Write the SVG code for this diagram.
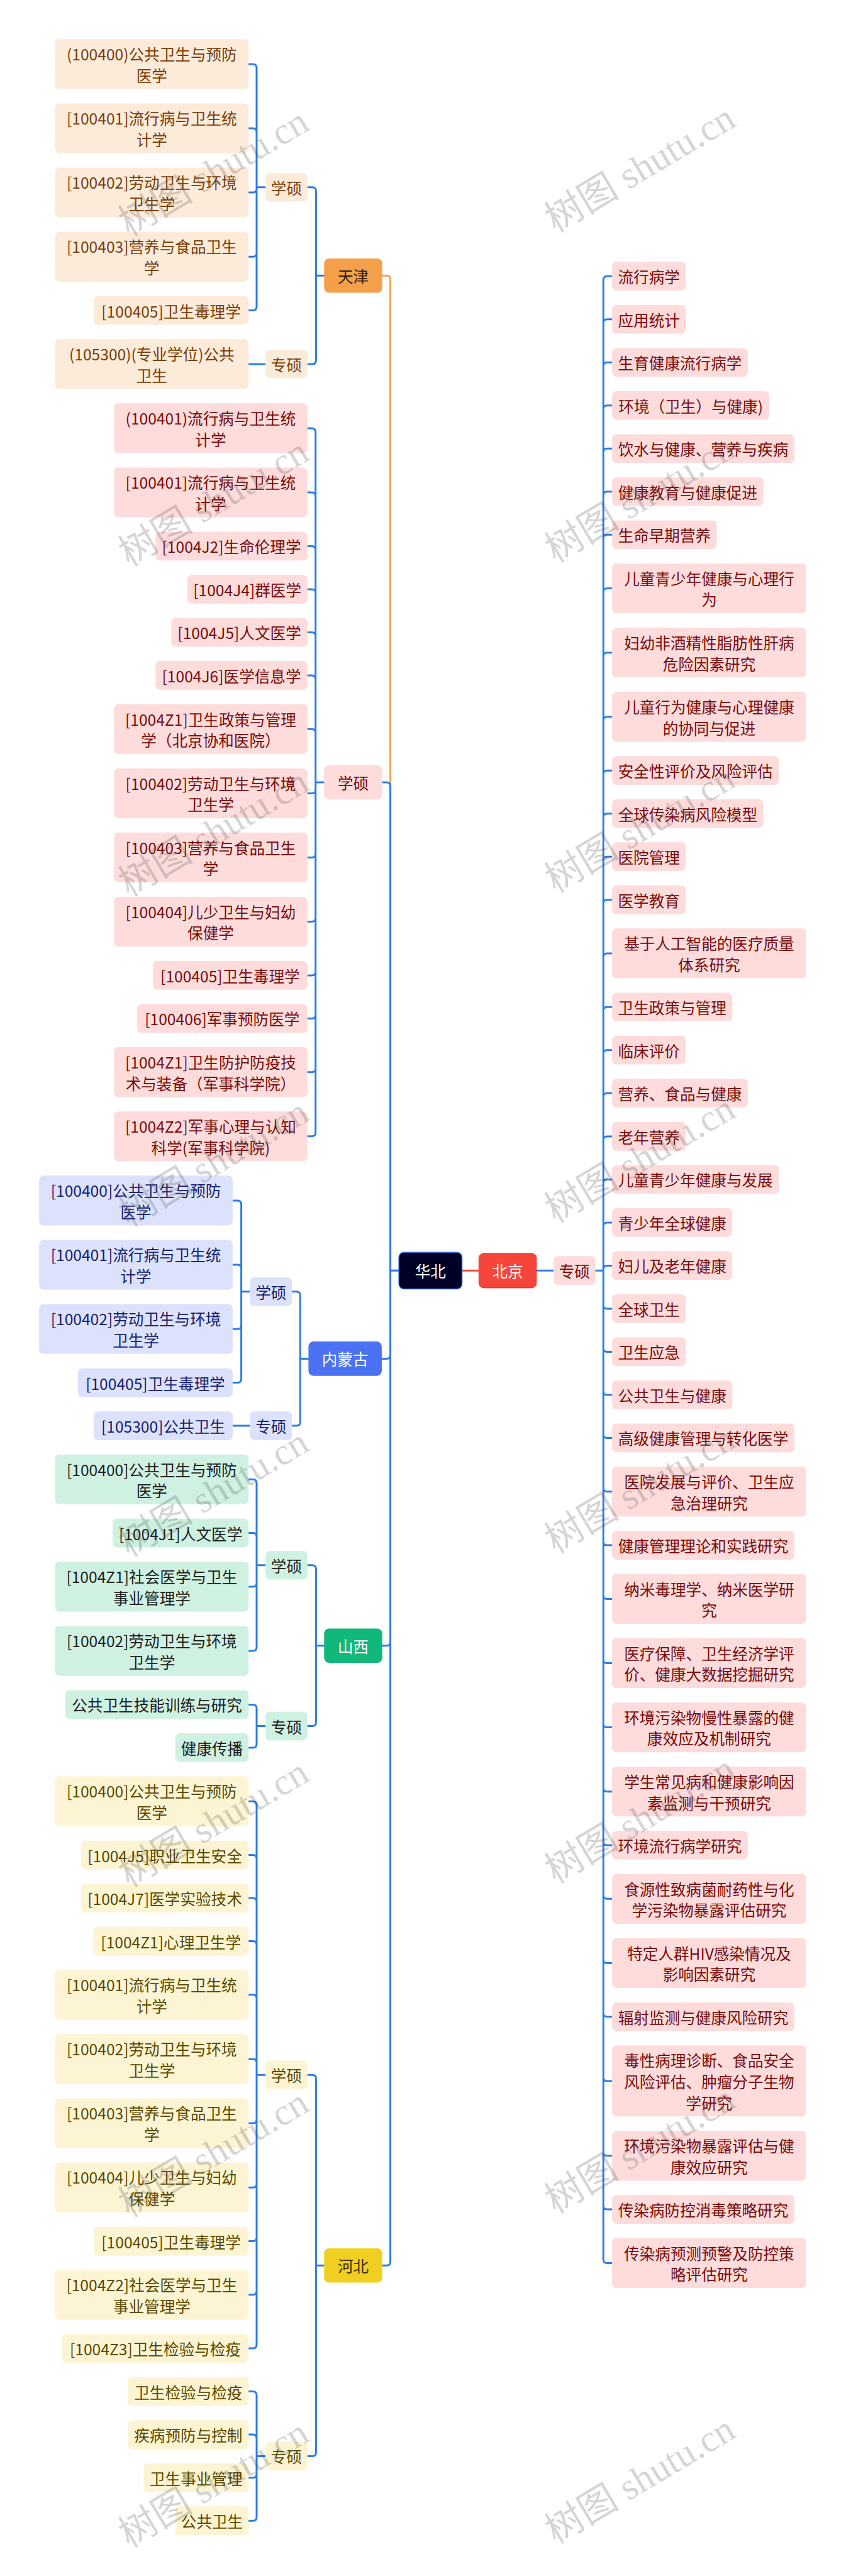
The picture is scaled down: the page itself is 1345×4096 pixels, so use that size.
<svg xmlns="http://www.w3.org/2000/svg" width="1345" height="4096" viewBox="0 0 1345 4096">
<style>
text{font-family:"Noto Sans CJK SC","Noto Sans",sans-serif;font-size:24.6px;text-anchor:middle;dominant-baseline:central}
.tj rect{fill:#FDEBDA}.tj text{fill:#7A3C06}
.bj rect{fill:#FDDCDB}.bj text{fill:#7A0B0B}
.nm rect{fill:#DCE2FB}.nm text{fill:#15206E}
.sx rect{fill:#CFF1E1}.sx text{fill:#1C1C1C}
.hb rect{fill:#FCF4D2}.hb text{fill:#5A4800}
.ln{fill:none;stroke:#2F7DE1;stroke-width:3;stroke-linecap:round;stroke-linejoin:round}
.wm{font-family:"Liberation Serif","Noto Sans CJK SC",serif;font-size:60px;fill:#404040;fill-opacity:0.22}
</style>
<rect x="0" y="0" width="1345" height="4096" fill="#FFFFFF"/>
<g id="connectors">
<path d="M634.2 2020.3H620.6V444.3Q620.6 438.3 614.6 438.3H607.7" fill="none" stroke="#F2A453" stroke-width="3" stroke-linecap="round"/>
<path class="ln" d="M634.2 2020.3H620.6V1249.9Q620.6 1243.9 614.6 1243.9H607.7M634.2 2020.3H620.6V2154.4Q620.6 2160.4 614.6 2160.4H606.9M634.2 2020.3H620.6V2610.7Q620.6 2616.7 614.6 2616.7H607.7M634.2 2020.3H620.6V3596.3Q620.6 3602.3 614.6 3602.3H607.7"/>
<path d="M734.5 2020.3H761.3" fill="none" stroke="#F04A3E" stroke-width="3"/>
<path class="ln" d="M852.9 2020.3H879.9"/>
<path class="ln" d="M515.3 438.3H502.4V303.7Q502.4 297.7 496.4 297.7H488.8M515.3 438.3H502.4V572.9Q502.4 578.9 496.4 578.9H488.8M422.1 297.7H408V107.9Q408 101.9 402 101.9H395.2M422.1 297.7H408V210Q408 204 402 204H395.2M422.1 297.7H408V300.1Q408 306.1 402 306.1H395.2M422.1 297.7H408V402.2Q408 408.2 402 408.2H395.2M422.1 297.7H408V487.6Q408 493.6 402 493.6H395.2M422.1 578.9H395.2"/>
<path class="ln" d="M515.3 1243.9H501.7V687Q501.7 681 495.7 681H488.8M515.3 1243.9H501.7V789.1Q501.7 783.1 495.7 783.1H488.8M515.3 1243.9H501.7V874.4Q501.7 868.4 495.7 868.4H488.8M515.3 1243.9H501.7V942.9Q501.7 936.9 495.7 936.9H488.8M515.3 1243.9H501.7V1011.4Q501.7 1005.4 495.7 1005.4H488.8M515.3 1243.9H501.7V1079.9Q501.7 1073.9 495.7 1073.9H488.8M515.3 1243.9H501.7V1165.3Q501.7 1159.3 495.7 1159.3H488.8M515.3 1243.9H501.7V1255.4Q501.7 1261.4 495.7 1261.4H488.8M515.3 1243.9H501.7V1357.5Q501.7 1363.5 495.7 1363.5H488.8M515.3 1243.9H501.7V1459.6Q501.7 1465.6 495.7 1465.6H488.8M515.3 1243.9H501.7V1544.9Q501.7 1550.9 495.7 1550.9H488.8M515.3 1243.9H501.7V1613.4Q501.7 1619.4 495.7 1619.4H488.8M515.3 1243.9H501.7V1698.7Q501.7 1704.7 495.7 1704.7H488.8M515.3 1243.9H501.7V1800.8Q501.7 1806.8 495.7 1806.8H488.8"/>
<path class="ln" d="M490.4 2160.4H477.3V2059.7Q477.3 2053.7 471.3 2053.7H464.3M490.4 2160.4H477.3V2261Q477.3 2267 471.3 2267H464.3M397.2 2053.7H383.6V1914.9Q383.6 1908.9 377.6 1908.9H369.9M397.2 2053.7H383.6V2017.1Q383.6 2011.1 377.6 2011.1H369.9M397.2 2053.7H383.6V2107.2Q383.6 2113.2 377.6 2113.2H369.9M397.2 2053.7H383.6V2192.5Q383.6 2198.5 377.6 2198.5H369.9M397.2 2267H369.9"/>
<path class="ln" d="M515.3 2616.7H502.4V2494.7Q502.4 2488.7 496.4 2488.7H488.8M515.3 2616.7H502.4V2738.6Q502.4 2744.6 496.4 2744.6H488.8M422.1 2488.7H408V2358.3Q408 2352.3 402 2352.3H395.2M422.1 2488.7H408V2443.6Q408 2437.6 402 2437.6H395.2M422.1 2488.7H408V2516.9Q408 2522.9 402 2522.9H395.2M422.1 2488.7H408V2619.1Q408 2625.1 402 2625.1H395.2M422.1 2744.6H408V2716.4Q408 2710.4 402 2710.4H395.2M422.1 2744.6H408V2772.9Q408 2778.9 402 2778.9H395.2"/>
<path class="ln" d="M515.3 3602.3H502.4V3305.2Q502.4 3299.2 496.4 3299.2H488.8M515.3 3602.3H502.4V3899.4Q502.4 3905.4 496.4 3905.4H488.8M422.1 3299.2H408V2870.2Q408 2864.2 402 2864.2H395.2M422.1 3299.2H408V2955.5Q408 2949.5 402 2949.5H395.2M422.1 3299.2H408V3024Q408 3018 402 3018H395.2M422.1 3299.2H408V3092.5Q408 3086.5 402 3086.5H395.2M422.1 3299.2H408V3177.8Q408 3171.8 402 3171.8H395.2M422.1 3299.2H408V3280Q408 3274 402 3274H395.2M422.1 3299.2H408V3370.1Q408 3376.1 402 3376.1H395.2M422.1 3299.2H408V3472.2Q408 3478.2 402 3478.2H395.2M422.1 3299.2H408V3557.5Q408 3563.5 402 3563.5H395.2M422.1 3299.2H408V3642.8Q408 3648.8 402 3648.8H395.2M422.1 3299.2H408V3728.1Q408 3734.1 402 3734.1H395.2M422.1 3905.4H408V3808.6Q408 3802.6 402 3802.6H395.2M422.1 3905.4H408V3877.1Q408 3871.1 402 3871.1H395.2M422.1 3905.4H408V3933.7Q408 3939.7 402 3939.7H395.2M422.1 3905.4H408V4002.2Q408 4008.2 402 4008.2H395.2"/>
<path class="ln" d="M946.6 2020.3H959.2V445.2Q959.2 439.2 965.2 439.2H973.1M946.6 2020.3H959.2V513.7Q959.2 507.7 965.2 507.7H973.1M946.6 2020.3H959.2V582.3Q959.2 576.3 965.2 576.3H973.1M946.6 2020.3H959.2V650.8Q959.2 644.8 965.2 644.8H973.1M946.6 2020.3H959.2V719.3Q959.2 713.3 965.2 713.3H973.1M946.6 2020.3H959.2V787.8Q959.2 781.8 965.2 781.8H973.1M946.6 2020.3H959.2V856.3Q959.2 850.3 965.2 850.3H973.1M946.6 2020.3H959.2V941.6Q959.2 935.6 965.2 935.6H973.1M946.6 2020.3H959.2V1043.7Q959.2 1037.7 965.2 1037.7H973.1M946.6 2020.3H959.2V1145.8Q959.2 1139.8 965.2 1139.8H973.1M946.6 2020.3H959.2V1231.2Q959.2 1225.2 965.2 1225.2H973.1M946.6 2020.3H959.2V1299.7Q959.2 1293.7 965.2 1293.7H973.1M946.6 2020.3H959.2V1368.2Q959.2 1362.2 965.2 1362.2H973.1M946.6 2020.3H959.2V1436.7Q959.2 1430.7 965.2 1430.7H973.1M946.6 2020.3H959.2V1522Q959.2 1516 965.2 1516H973.1M946.6 2020.3H959.2V1607.3Q959.2 1601.3 965.2 1601.3H973.1M946.6 2020.3H959.2V1675.8Q959.2 1669.8 965.2 1669.8H973.1M946.6 2020.3H959.2V1744.3Q959.2 1738.3 965.2 1738.3H973.1M946.6 2020.3H959.2V1812.9Q959.2 1806.9 965.2 1806.9H973.1M946.6 2020.3H959.2V1881.4Q959.2 1875.4 965.2 1875.4H973.1M946.6 2020.3H959.2V1949.9Q959.2 1943.9 965.2 1943.9H973.1M946.6 2020.3H959.2V2018.4Q959.2 2012.4 965.2 2012.4H973.1M946.6 2020.3H959.2V2074.9Q959.2 2080.9 965.2 2080.9H973.1M946.6 2020.3H959.2V2143.4Q959.2 2149.4 965.2 2149.4H973.1M946.6 2020.3H959.2V2211.9Q959.2 2217.9 965.2 2217.9H973.1M946.6 2020.3H959.2V2280.4Q959.2 2286.4 965.2 2286.4H973.1M946.6 2020.3H959.2V2365.8Q959.2 2371.8 965.2 2371.8H973.1M946.6 2020.3H959.2V2451.1Q959.2 2457.1 965.2 2457.1H973.1M946.6 2020.3H959.2V2536.4Q959.2 2542.4 965.2 2542.4H973.1M946.6 2020.3H959.2V2638.5Q959.2 2644.5 965.2 2644.5H973.1M946.6 2020.3H959.2V2740.6Q959.2 2746.6 965.2 2746.6H973.1M946.6 2020.3H959.2V2842.7Q959.2 2848.7 965.2 2848.7H973.1M946.6 2020.3H959.2V2928Q959.2 2934 965.2 2934H973.1M946.6 2020.3H959.2V3013.3Q959.2 3019.3 965.2 3019.3H973.1M946.6 2020.3H959.2V3115.5Q959.2 3121.5 965.2 3121.5H973.1M946.6 2020.3H959.2V3200.8Q959.2 3206.8 965.2 3206.8H973.1M946.6 2020.3H959.2V3302.9Q959.2 3308.9 965.2 3308.9H973.1M946.6 2020.3H959.2V3421.8Q959.2 3427.8 965.2 3427.8H973.1M946.6 2020.3H959.2V3507.1Q959.2 3513.1 965.2 3513.1H973.1M946.6 2020.3H959.2V3592.4Q959.2 3598.4 965.2 3598.4H973.1"/>
</g>

<g id="huabei"><rect x="634.2" y="1991.2" width="100.3" height="58.3" rx="8" fill="#000026" stroke="#2F6FD6" stroke-width="1.5"/><text x="684.35" y="2020.3" fill="#FFFFFF">华北</text></g>
<g id="beijing"><rect x="761.3" y="1992.8" width="91.6" height="55.1" rx="8" fill="#F6453B" stroke="#E23A31" stroke-width="1"/><text x="807.1" y="2020.3" fill="#FFFFFF">北京</text></g>
<g id="bj-zs" class="bj"><rect x="879.9" y="1997.2" width="66.7" height="46.2" rx="7"/><text x="913.25" y="2020.3">专硕</text></g>

<g id="tianjin"><rect x="515.3" y="411" width="92.4" height="54.6" rx="8" fill="#F4A04B"/><text x="561.5" y="438.3" fill="#2A1C0E">天津</text></g>
<g id="tj-xs" class="tj"><rect x="422.1" y="274.9" width="66.7" height="45.7" rx="7"/><text x="455.45" y="297.7">学硕</text></g>
<g id="tj-zs" class="tj"><rect x="422.1" y="556.1" width="66.7" height="45.7" rx="7"/><text x="455.45" y="578.9">专硕</text></g>
<g id="tj-1" class="tj"><rect x="87.5" y="62.3" width="307.7" height="79.3" rx="7"/><text><tspan x="241.35" y="85.1">(100400)公共卫生与预防</tspan><tspan x="241.35" y="118.7">医学</tspan></text></g>
<g id="tj-2" class="tj"><rect x="87.5" y="164.4" width="307.7" height="79.3" rx="7"/><text><tspan x="241.35" y="187.2">[100401]流行病与卫生统</tspan><tspan x="241.35" y="220.8">计学</tspan></text></g>
<g id="tj-3" class="tj"><rect x="87.5" y="266.5" width="307.7" height="79.3" rx="7"/><text><tspan x="241.35" y="289.3">[100402]劳动卫生与环境</tspan><tspan x="241.35" y="322.9">卫生学</tspan></text></g>
<g id="tj-4" class="tj"><rect x="87.5" y="368.6" width="307.7" height="79.3" rx="7"/><text><tspan x="241.35" y="391.4">[100403]营养与食品卫生</tspan><tspan x="241.35" y="425">学</tspan></text></g>
<g id="tj-5" class="tj"><rect x="148.9" y="470.7" width="246.3" height="45.7" rx="7"/><text x="272.05" y="493.6">[100405]卫生毒理学</text></g>
<g id="tj-6" class="tj"><rect x="87.5" y="539.2" width="307.7" height="79.3" rx="7"/><text><tspan x="241.35" y="562.1">(105300)(专业学位)公共</tspan><tspan x="241.35" y="595.7">卫生</tspan></text></g>

<g id="bj-xs" class="bj"><rect x="515.3" y="1216.6" width="92.4" height="54.6" rx="8"/><text x="561.5" y="1243.9">学硕</text></g>
<g id="bx-1" class="bj"><rect x="181.1" y="641.3" width="307.7" height="79.3" rx="7"/><text><tspan x="334.95" y="664.2">(100401)流行病与卫生统</tspan><tspan x="334.95" y="697.8">计学</tspan></text></g>
<g id="bx-2" class="bj"><rect x="181.1" y="743.5" width="307.7" height="79.3" rx="7"/><text><tspan x="334.95" y="766.3">[100401]流行病与卫生统</tspan><tspan x="334.95" y="799.9">计学</tspan></text></g>
<g id="bx-3" class="bj"><rect x="247.3" y="845.6" width="241.5" height="45.7" rx="7"/><text x="368.05" y="868.4">[1004J2]生命伦理学</text></g>
<g id="bx-4" class="bj"><rect x="297.5" y="914.1" width="191.3" height="45.7" rx="7"/><text x="393.15" y="936.9">[1004J4]群医学</text></g>
<g id="bx-5" class="bj"><rect x="272.3" y="982.6" width="216.5" height="45.7" rx="7"/><text x="380.55" y="1005.4">[1004J5]人文医学</text></g>
<g id="bx-6" class="bj"><rect x="247.3" y="1051.1" width="241.5" height="45.7" rx="7"/><text x="368.05" y="1073.9">[1004J6]医学信息学</text></g>
<g id="bx-7" class="bj"><rect x="181.1" y="1119.6" width="307.7" height="79.3" rx="7"/><text><tspan x="334.95" y="1142.5">[1004Z1]卫生政策与管理</tspan><tspan x="334.95" y="1176.1">学（北京协和医院）</tspan></text></g>
<g id="bx-8" class="bj"><rect x="181.1" y="1221.7" width="307.7" height="79.3" rx="7"/><text><tspan x="334.95" y="1244.6">[100402]劳动卫生与环境</tspan><tspan x="334.95" y="1278.2">卫生学</tspan></text></g>
<g id="bx-9" class="bj"><rect x="181.1" y="1323.8" width="307.7" height="79.3" rx="7"/><text><tspan x="334.95" y="1346.7">[100403]营养与食品卫生</tspan><tspan x="334.95" y="1380.3">学</tspan></text></g>
<g id="bx-10" class="bj"><rect x="181.1" y="1426" width="307.7" height="79.3" rx="7"/><text><tspan x="334.95" y="1448.8">[100404]儿少卫生与妇幼</tspan><tspan x="334.95" y="1482.4">保健学</tspan></text></g>
<g id="bx-11" class="bj"><rect x="242.9" y="1528.1" width="245.9" height="45.7" rx="7"/><text x="365.85" y="1550.9">[100405]卫生毒理学</text></g>
<g id="bx-12" class="bj"><rect x="217.8" y="1596.6" width="271" height="45.7" rx="7"/><text x="353.3" y="1619.4">[100406]军事预防医学</text></g>
<g id="bx-13" class="bj"><rect x="181.1" y="1665.1" width="307.7" height="79.3" rx="7"/><text><tspan x="334.95" y="1687.9">[1004Z1]卫生防护防疫技</tspan><tspan x="334.95" y="1721.5">术与装备（军事科学院）</tspan></text></g>
<g id="bx-14" class="bj"><rect x="181.1" y="1767.2" width="307.7" height="79.3" rx="7"/><text><tspan x="334.95" y="1790">[1004Z2]军事心理与认知</tspan><tspan x="334.95" y="1823.6">科学(军事科学院)</tspan></text></g>

<g id="neimenggu"><rect x="490.4" y="2133.1" width="116.5" height="54.6" rx="8" fill="#4B72F3"/><text x="548.65" y="2160.4" fill="#FFFFFF">内蒙古</text></g>
<g id="nm-xs" class="nm"><rect x="397.2" y="2030.9" width="67.1" height="45.7" rx="7"/><text x="430.75" y="2053.7">学硕</text></g>
<g id="nm-zs" class="nm"><rect x="397.2" y="2244.2" width="67.1" height="45.7" rx="7"/><text x="430.75" y="2267">专硕</text></g>
<g id="nm-1" class="nm"><rect x="62.2" y="1869.3" width="307.7" height="79.3" rx="7"/><text><tspan x="216.05" y="1892.1">[100400]公共卫生与预防</tspan><tspan x="216.05" y="1925.7">医学</tspan></text></g>
<g id="nm-2" class="nm"><rect x="62.2" y="1971.4" width="307.7" height="79.3" rx="7"/><text><tspan x="216.05" y="1994.3">[100401]流行病与卫生统</tspan><tspan x="216.05" y="2027.9">计学</tspan></text></g>
<g id="nm-3" class="nm"><rect x="62.2" y="2073.5" width="307.7" height="79.3" rx="7"/><text><tspan x="216.05" y="2096.4">[100402]劳动卫生与环境</tspan><tspan x="216.05" y="2130">卫生学</tspan></text></g>
<g id="nm-4" class="nm"><rect x="123.9" y="2175.7" width="246" height="45.7" rx="7"/><text x="246.9" y="2198.5">[100405]卫生毒理学</text></g>
<g id="nm-5" class="nm"><rect x="148.9" y="2244.2" width="221" height="45.7" rx="7"/><text x="259.4" y="2267">[105300]公共卫生</text></g>

<g id="shanxi"><rect x="515.3" y="2589.4" width="92.4" height="54.6" rx="8" fill="#12B77A"/><text x="561.5" y="2616.7" fill="#FFFFFF">山西</text></g>
<g id="sx-xs" class="sx"><rect x="422.1" y="2465.9" width="66.7" height="45.7" rx="7"/><text x="455.45" y="2488.7">学硕</text></g>
<g id="sx-zs" class="sx"><rect x="422.1" y="2721.8" width="66.7" height="45.7" rx="7"/><text x="455.45" y="2744.6">专硕</text></g>
<g id="sx-1" class="sx"><rect x="87.5" y="2312.7" width="307.7" height="79.3" rx="7"/><text><tspan x="241.35" y="2335.5">[100400]公共卫生与预防</tspan><tspan x="241.35" y="2369.1">医学</tspan></text></g>
<g id="sx-2" class="sx"><rect x="179" y="2414.8" width="216.2" height="45.7" rx="7"/><text x="287.1" y="2437.6">[1004J1]人文医学</text></g>
<g id="sx-3" class="sx"><rect x="87.5" y="2483.3" width="307.7" height="79.3" rx="7"/><text><tspan x="241.35" y="2506.1">[1004Z1]社会医学与卫生</tspan><tspan x="241.35" y="2539.7">事业管理学</tspan></text></g>
<g id="sx-4" class="sx"><rect x="87.5" y="2585.4" width="307.7" height="79.3" rx="7"/><text><tspan x="241.35" y="2608.3">[100402]劳动卫生与环境</tspan><tspan x="241.35" y="2641.9">卫生学</tspan></text></g>
<g id="sx-5" class="sx"><rect x="103.9" y="2687.5" width="291.3" height="45.7" rx="7"/><text x="249.55" y="2710.4">公共卫生技能训练与研究</text></g>
<g id="sx-6" class="sx"><rect x="278.8" y="2756" width="116.4" height="45.7" rx="7"/><text x="337" y="2778.9">健康传播</text></g>

<g id="hebei"><rect x="515.3" y="3575" width="92.4" height="54.6" rx="8" fill="#F1CF22"/><text x="561.5" y="3602.3" fill="#3A2E00">河北</text></g>
<g id="hb-xs" class="hb"><rect x="422.1" y="3276.4" width="66.7" height="45.7" rx="7"/><text x="455.45" y="3299.2">学硕</text></g>
<g id="hb-zs" class="hb"><rect x="422.1" y="3882.6" width="66.7" height="45.7" rx="7"/><text x="455.45" y="3905.4">专硕</text></g>
<g id="hb-1" class="hb"><rect x="87.5" y="2824.6" width="307.7" height="79.3" rx="7"/><text><tspan x="241.35" y="2847.4">[100400]公共卫生与预防</tspan><tspan x="241.35" y="2881">医学</tspan></text></g>
<g id="hb-2" class="hb"><rect x="128.8" y="2926.7" width="266.4" height="45.7" rx="7"/><text x="262" y="2949.5">[1004J5]职业卫生安全</text></g>
<g id="hb-3" class="hb"><rect x="128.8" y="2995.2" width="266.4" height="45.7" rx="7"/><text x="262" y="3018">[1004J7]医学实验技术</text></g>
<g id="hb-4" class="hb"><rect x="148.2" y="3063.7" width="247" height="45.7" rx="7"/><text x="271.7" y="3086.5">[1004Z1]心理卫生学</text></g>
<g id="hb-5" class="hb"><rect x="87.5" y="3132.2" width="307.7" height="79.3" rx="7"/><text><tspan x="241.35" y="3155">[100401]流行病与卫生统</tspan><tspan x="241.35" y="3188.6">计学</tspan></text></g>
<g id="hb-6" class="hb"><rect x="87.5" y="3234.3" width="307.7" height="79.3" rx="7"/><text><tspan x="241.35" y="3257.2">[100402]劳动卫生与环境</tspan><tspan x="241.35" y="3290.8">卫生学</tspan></text></g>
<g id="hb-7" class="hb"><rect x="87.5" y="3336.4" width="307.7" height="79.3" rx="7"/><text><tspan x="241.35" y="3359.3">[100403]营养与食品卫生</tspan><tspan x="241.35" y="3392.9">学</tspan></text></g>
<g id="hb-8" class="hb"><rect x="87.5" y="3438.5" width="307.7" height="79.3" rx="7"/><text><tspan x="241.35" y="3461.4">[100404]儿少卫生与妇幼</tspan><tspan x="241.35" y="3495">保健学</tspan></text></g>
<g id="hb-9" class="hb"><rect x="148.9" y="3540.7" width="246.3" height="45.7" rx="7"/><text x="272.05" y="3563.5">[100405]卫生毒理学</text></g>
<g id="hb-10" class="hb"><rect x="87.5" y="3609.2" width="307.7" height="79.3" rx="7"/><text><tspan x="241.35" y="3632">[1004Z2]社会医学与卫生</tspan><tspan x="241.35" y="3665.6">事业管理学</tspan></text></g>
<g id="hb-11" class="hb"><rect x="98.7" y="3711.3" width="296.5" height="45.7" rx="7"/><text x="246.95" y="3734.1">[1004Z3]卫生检验与检疫</text></g>
<g id="hb-12" class="hb"><rect x="203.5" y="3779.8" width="191.7" height="45.7" rx="7"/><text x="299.35" y="3802.6">卫生检验与检疫</text></g>
<g id="hb-13" class="hb"><rect x="203.5" y="3848.3" width="191.7" height="45.7" rx="7"/><text x="299.35" y="3871.1">疾病预防与控制</text></g>
<g id="hb-14" class="hb"><rect x="228.4" y="3916.8" width="166.8" height="45.7" rx="7"/><text x="311.8" y="3939.7">卫生事业管理</text></g>
<g id="hb-15" class="hb"><rect x="278.8" y="3985.3" width="116.4" height="45.7" rx="7"/><text x="337" y="4008.2">公共卫生</text></g>

<g id="bj-1" class="bj"><rect x="973.1" y="416.3" width="117.1" height="45.7" rx="7"/><text x="1031.65" y="439.2">流行病学</text></g>
<g id="bj-2" class="bj"><rect x="973.1" y="484.8" width="117.1" height="45.7" rx="7"/><text x="1031.65" y="507.7">应用统计</text></g>
<g id="bj-3" class="bj"><rect x="973.1" y="553.4" width="215.8" height="45.7" rx="7"/><text x="1081" y="576.3">生育健康流行病学</text></g>
<g id="bj-4" class="bj"><rect x="973.1" y="621.9" width="250.1" height="45.7" rx="7"/><text x="1098.15" y="644.8">环境（卫生）与健康)</text></g>
<g id="bj-5" class="bj"><rect x="973.1" y="690.4" width="289.9" height="45.7" rx="7"/><text x="1118.05" y="713.3">饮水与健康、营养与疾病</text></g>
<g id="bj-6" class="bj"><rect x="973.1" y="758.9" width="240.5" height="45.7" rx="7"/><text x="1093.35" y="781.8">健康教育与健康促进</text></g>
<g id="bj-7" class="bj"><rect x="973.1" y="827.4" width="166.5" height="45.7" rx="7"/><text x="1056.35" y="850.3">生命早期营养</text></g>
<g id="bj-8" class="bj"><rect x="973.1" y="895.9" width="308.7" height="79.3" rx="7"/><text><tspan x="1127.45" y="918.8">儿童青少年健康与心理行</tspan><tspan x="1127.45" y="952.4">为</tspan></text></g>
<g id="bj-9" class="bj"><rect x="973.1" y="998" width="308.7" height="79.3" rx="7"/><text><tspan x="1127.45" y="1020.9">妇幼非酒精性脂肪性肝病</tspan><tspan x="1127.45" y="1054.5">危险因素研究</tspan></text></g>
<g id="bj-10" class="bj"><rect x="973.1" y="1100.1" width="308.7" height="79.3" rx="7"/><text><tspan x="1127.45" y="1123">儿童行为健康与心理健康</tspan><tspan x="1127.45" y="1156.6">的协同与促进</tspan></text></g>
<g id="bj-11" class="bj"><rect x="973.1" y="1202.3" width="265.2" height="45.7" rx="7"/><text x="1105.7" y="1225.2">安全性评价及风险评估</text></g>
<g id="bj-12" class="bj"><rect x="973.1" y="1270.8" width="240.5" height="45.7" rx="7"/><text x="1093.35" y="1293.7">全球传染病风险模型</text></g>
<g id="bj-13" class="bj"><rect x="973.1" y="1339.3" width="117.1" height="45.7" rx="7"/><text x="1031.65" y="1362.2">医院管理</text></g>
<g id="bj-14" class="bj"><rect x="973.1" y="1407.8" width="117.1" height="45.7" rx="7"/><text x="1031.65" y="1430.7">医学教育</text></g>
<g id="bj-15" class="bj"><rect x="973.1" y="1476.3" width="308.7" height="79.3" rx="7"/><text><tspan x="1127.45" y="1499.2">基于人工智能的医疗质量</tspan><tspan x="1127.45" y="1532.8">体系研究</tspan></text></g>
<g id="bj-16" class="bj"><rect x="973.1" y="1578.4" width="191.2" height="45.7" rx="7"/><text x="1068.7" y="1601.3">卫生政策与管理</text></g>
<g id="bj-17" class="bj"><rect x="973.1" y="1646.9" width="117.1" height="45.7" rx="7"/><text x="1031.65" y="1669.8">临床评价</text></g>
<g id="bj-18" class="bj"><rect x="973.1" y="1715.4" width="215.8" height="45.7" rx="7"/><text x="1081" y="1738.3">营养、食品与健康</text></g>
<g id="bj-19" class="bj"><rect x="973.1" y="1784" width="117.1" height="45.7" rx="7"/><text x="1031.65" y="1806.9">老年营养</text></g>
<g id="bj-20" class="bj"><rect x="973.1" y="1852.5" width="265.2" height="45.7" rx="7"/><text x="1105.7" y="1875.4">儿童青少年健康与发展</text></g>
<g id="bj-21" class="bj"><rect x="973.1" y="1921" width="191.2" height="45.7" rx="7"/><text x="1068.7" y="1943.9">青少年全球健康</text></g>
<g id="bj-22" class="bj"><rect x="973.1" y="1989.5" width="191.2" height="45.7" rx="7"/><text x="1068.7" y="2012.4">妇儿及老年健康</text></g>
<g id="bj-23" class="bj"><rect x="973.1" y="2058" width="117.1" height="45.7" rx="7"/><text x="1031.65" y="2080.9">全球卫生</text></g>
<g id="bj-24" class="bj"><rect x="973.1" y="2126.5" width="117.1" height="45.7" rx="7"/><text x="1031.65" y="2149.4">卫生应急</text></g>
<g id="bj-25" class="bj"><rect x="973.1" y="2195" width="191.2" height="45.7" rx="7"/><text x="1068.7" y="2217.9">公共卫生与健康</text></g>
<g id="bj-26" class="bj"><rect x="973.1" y="2263.5" width="289.9" height="45.7" rx="7"/><text x="1118.05" y="2286.4">高级健康管理与转化医学</text></g>
<g id="bj-27" class="bj"><rect x="973.1" y="2332.1" width="308.7" height="79.3" rx="7"/><text><tspan x="1127.45" y="2355">医院发展与评价、卫生应</tspan><tspan x="1127.45" y="2388.6">急治理研究</tspan></text></g>
<g id="bj-28" class="bj"><rect x="973.1" y="2434.2" width="289.9" height="45.7" rx="7"/><text x="1118.05" y="2457.1">健康管理理论和实践研究</text></g>
<g id="bj-29" class="bj"><rect x="973.1" y="2502.7" width="308.7" height="79.3" rx="7"/><text><tspan x="1127.45" y="2525.6">纳米毒理学、纳米医学研</tspan><tspan x="1127.45" y="2559.2">究</tspan></text></g>
<g id="bj-30" class="bj"><rect x="973.1" y="2604.8" width="308.7" height="79.3" rx="7"/><text><tspan x="1127.45" y="2627.7">医疗保障、卫生经济学评</tspan><tspan x="1127.45" y="2661.3">价、健康大数据挖掘研究</tspan></text></g>
<g id="bj-31" class="bj"><rect x="973.1" y="2706.9" width="308.7" height="79.3" rx="7"/><text><tspan x="1127.45" y="2729.8">环境污染物慢性暴露的健</tspan><tspan x="1127.45" y="2763.4">康效应及机制研究</tspan></text></g>
<g id="bj-32" class="bj"><rect x="973.1" y="2809" width="308.7" height="79.3" rx="7"/><text><tspan x="1127.45" y="2831.9">学生常见病和健康影响因</tspan><tspan x="1127.45" y="2865.5">素监测与干预研究</tspan></text></g>
<g id="bj-33" class="bj"><rect x="973.1" y="2911.1" width="215.8" height="45.7" rx="7"/><text x="1081" y="2934">环境流行病学研究</text></g>
<g id="bj-34" class="bj"><rect x="973.1" y="2979.6" width="308.7" height="79.3" rx="7"/><text><tspan x="1127.45" y="3002.5">食源性致病菌耐药性与化</tspan><tspan x="1127.45" y="3036.1">学污染物暴露评估研究</tspan></text></g>
<g id="bj-35" class="bj"><rect x="973.1" y="3081.8" width="308.7" height="79.3" rx="7"/><text><tspan x="1127.45" y="3104.7">特定人群HIV感染情况及</tspan><tspan x="1127.45" y="3138.3">影响因素研究</tspan></text></g>
<g id="bj-36" class="bj"><rect x="973.1" y="3183.9" width="289.9" height="45.7" rx="7"/><text x="1118.05" y="3206.8">辐射监测与健康风险研究</text></g>
<g id="bj-37" class="bj"><rect x="973.1" y="3252.4" width="308.7" height="112.9" rx="7"/><text><tspan x="1127.45" y="3275.3">毒性病理诊断、食品安全</tspan><tspan x="1127.45" y="3308.9">风险评估、肿瘤分子生物</tspan><tspan x="1127.45" y="3342.5">学研究</tspan></text></g>
<g id="bj-38" class="bj"><rect x="973.1" y="3388.1" width="308.7" height="79.3" rx="7"/><text><tspan x="1127.45" y="3411">环境污染物暴露评估与健</tspan><tspan x="1127.45" y="3444.6">康效应研究</tspan></text></g>
<g id="bj-39" class="bj"><rect x="973.1" y="3490.2" width="289.9" height="45.7" rx="7"/><text x="1118.05" y="3513.1">传染病防控消毒策略研究</text></g>
<g id="bj-40" class="bj"><rect x="973.1" y="3558.7" width="308.7" height="79.3" rx="7"/><text><tspan x="1127.45" y="3581.6">传染病预测预警及防控策</tspan><tspan x="1127.45" y="3615.2">略评估研究</tspan></text></g>

<g id="watermarks">
<text class="wm" x="339.7" y="273.5" transform="rotate(-30.7 339.7 273.5)">树图 shutu.cn</text>
<text class="wm" x="339.7" y="798.5" transform="rotate(-30.7 339.7 798.5)">树图 shutu.cn</text>
<text class="wm" x="339.7" y="1323.5" transform="rotate(-30.7 339.7 1323.5)">树图 shutu.cn</text>
<text class="wm" x="339.7" y="1848.5" transform="rotate(-30.7 339.7 1848.5)">树图 shutu.cn</text>
<text class="wm" x="339.7" y="2373.5" transform="rotate(-30.7 339.7 2373.5)">树图 shutu.cn</text>
<text class="wm" x="339.7" y="2898.5" transform="rotate(-30.7 339.7 2898.5)">树图 shutu.cn</text>
<text class="wm" x="339.7" y="3423.5" transform="rotate(-30.7 339.7 3423.5)">树图 shutu.cn</text>
<text class="wm" x="339.7" y="3948.5" transform="rotate(-30.7 339.7 3948.5)">树图 shutu.cn</text>
<text class="wm" x="1017.5" y="267.8" transform="rotate(-30.7 1017.5 267.8)">树图 shutu.cn</text>
<text class="wm" x="1017.5" y="792.8" transform="rotate(-30.7 1017.5 792.8)">树图 shutu.cn</text>
<text class="wm" x="1017.5" y="1317.8" transform="rotate(-30.7 1017.5 1317.8)">树图 shutu.cn</text>
<text class="wm" x="1017.5" y="1842.8" transform="rotate(-30.7 1017.5 1842.8)">树图 shutu.cn</text>
<text class="wm" x="1017.5" y="2367.8" transform="rotate(-30.7 1017.5 2367.8)">树图 shutu.cn</text>
<text class="wm" x="1017.5" y="2892.8" transform="rotate(-30.7 1017.5 2892.8)">树图 shutu.cn</text>
<text class="wm" x="1017.5" y="3417.8" transform="rotate(-30.7 1017.5 3417.8)">树图 shutu.cn</text>
<text class="wm" x="1017.5" y="3942.8" transform="rotate(-30.7 1017.5 3942.8)">树图 shutu.cn</text>
</g>
</svg>
